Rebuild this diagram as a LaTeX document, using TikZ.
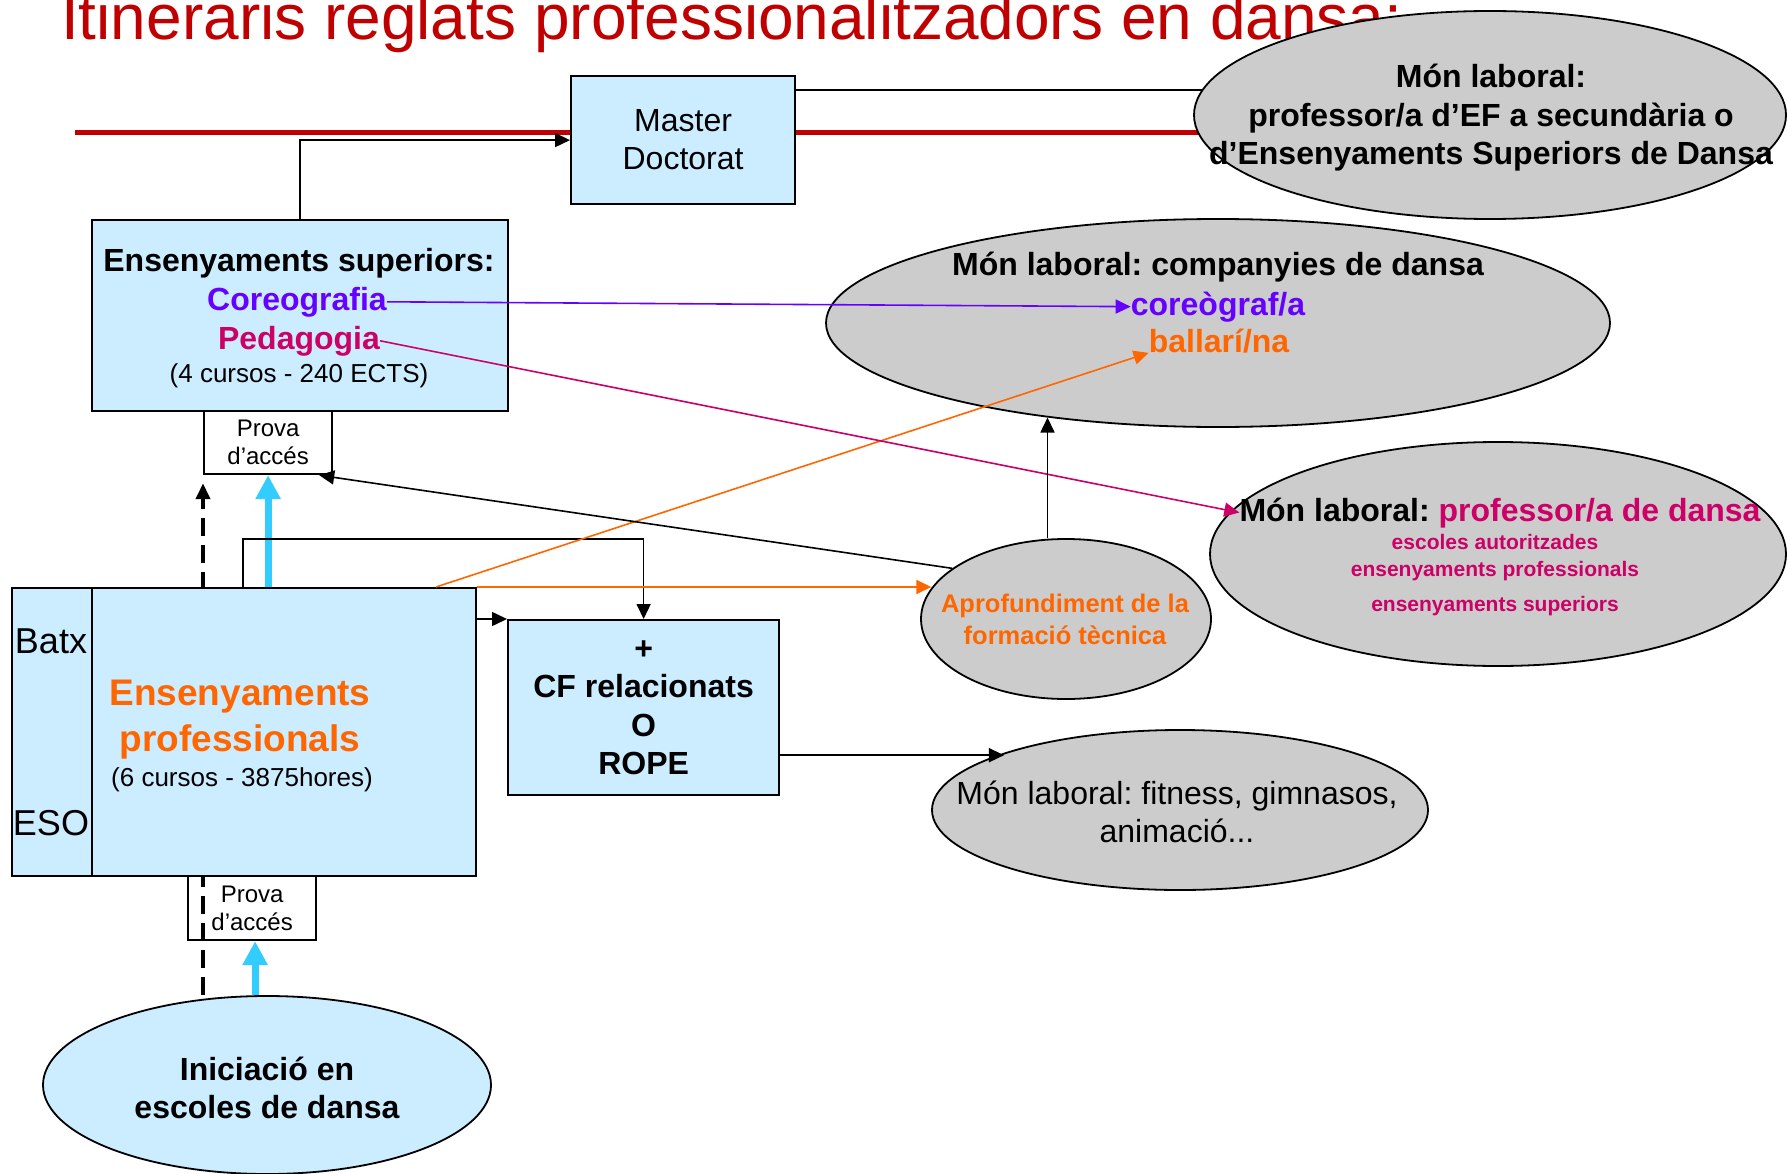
\documentclass[tikz,border=0pt]{standalone}
\usepackage{fontspec}
\setmainfont{Liberation Sans}
\frenchspacing
\usetikzlibrary{shapes.geometric,arrows.meta,backgrounds}
\definecolor{boxblue}{RGB}{204,236,255}
\definecolor{cloudgray}{RGB}{204,204,204}
\definecolor{titlered}{RGB}{192,0,0}
\definecolor{violeta}{RGB}{102,0,255}
\definecolor{rosa}{RGB}{204,0,102}
\definecolor{taronja}{RGB}{255,102,0}
\definecolor{cian}{RGB}{51,204,255}
\begin{document}
\begin{tikzpicture}[x=1pt, y=-1pt,
  caixa/.style={draw, line width=2.2pt, fill=boxblue, inner sep=0pt, anchor=north west},
  prova/.style={draw, line width=2.2pt, inner sep=0pt, anchor=north west, align=center, font=\fontsize{24}{28}\selectfont},
  nuvol/.style={ellipse, draw, line width=1.8pt, fill=cloudgray, inner sep=0pt},
  txt/.style={inner sep=0pt, align=center},
  gran/.style={font=\fontsize{32}{38}\selectfont},
  granb/.style={font=\fontsize{32}{38.5}\selectfont\bfseries},
  petit/.style={font=\fontsize{26}{30}\selectfont},
  fletxa/.style={-{Triangle[width=14pt,length=15pt]}, line width=1.6pt},
  cianfl/.style={-{Triangle[width=24pt,length=24pt]}, line width=7pt, cian},
  discont/.style={-{Triangle[width=14pt,length=16pt]}, line width=4pt, dash pattern=on 18pt off 9pt}]
\useasboundingbox (0,0) rectangle (1787,1174);
\node[txt, anchor=base west, font=\fontsize{64}{70}\selectfont, text=titlered] (titol) at (61,40) {Itineraris reglats professionalitzadors en dansa:};
\node[caixa, minimum width=224pt, minimum height=128pt, align=center, gran] (master) at (570,75) {Master\\Doctorat};
\node[nuvol, minimum width=592pt, minimum height=208pt] (topell) at (1490,115) {};
\node[txt, granb] (toptxt) at (1491,118) {Món laboral:\\professor/a d’EF a secundària o\\d’Ensenyaments Superiors de Dansa};
\node[caixa, minimum width=416pt, minimum height=191pt] (es) at (91,219) {};
\node[txt, granb, anchor=base] (esh) at (299,271) {Ensenyaments superiors:};
\node[txt, granb, anchor=base, text=violeta] (coreo) at (297,310) {Coreografia};
\node[txt, granb, anchor=base, text=rosa] (pedag) at (299,349) {Pedagogia};
\node[txt, petit, anchor=base] (escurs) at (299,382) {(4 cursos - 240 ECTS)};
\node[prova, minimum width=128pt, minimum height=63pt] (prova1) at (203,410) {Prova\\d’accés};
\node[nuvol, minimum width=784pt, minimum height=208pt] (comp) at (1218,323) {};
\node[txt, granb, anchor=base] (comph) at (1218,276) {Món laboral: companyies de dansa};
\node[txt, granb, anchor=base, text=violeta] (coreograf) at (1218,315) {coreògraf/a};
\node[txt, granb, anchor=base, text=taronja] (ballari) at (1219,352) {ballarí/na};
\node[nuvol, minimum width=576pt, minimum height=224pt] (profell) at (1498,554) {};
\node[txt, granb, anchor=base] (prof) at (1500,521) {Món laboral: \textcolor{rosa}{professor/a de dansa}};
\node[txt, font=\fontsize{21}{27}\selectfont\bfseries, text=rosa] (proftxt) at (1495,575.5) {escoles autoritzades\\ensenyaments professionals\\[8pt]ensenyaments superiors};
\node[nuvol, minimum width=290pt, minimum height=160pt] (aprof) at (1066,619) {};
\node[txt, font=\fontsize{25.5}{32}\selectfont\bfseries, text=taronja] (aproftxt) at (1065,619.5) {Aprofundiment de la\\formació tècnica};
\node[caixa, minimum width=80pt, minimum height=288pt] (batx) at (11,587) {};
\node[caixa, minimum width=384pt, minimum height=288pt] (ep) at (91,587) {};
\node[txt, anchor=base, font=\fontsize{36}{40}\selectfont] (batxtxt) at (51,653) {Batx};
\node[txt, anchor=base, font=\fontsize{36}{40}\selectfont] (esotxt) at (51,835) {ESO};
\node[txt, font=\fontsize{37}{46}\selectfont\bfseries, text=taronja] (eptxt) at (240,720) {Ensenyaments\\professionals};
\node[txt, petit, anchor=base] (epcurs) at (242,786) {(6 cursos - 3875hores)};
\node[caixa, minimum width=271pt, minimum height=175pt, align=center, granb] (cf) at (507,619) {+\\CF relacionats\\O\\ROPE};
\node[prova, minimum width=128pt, minimum height=64pt] (prova2) at (187,875) {Prova\\d’accés};
\node[nuvol, minimum width=496pt, minimum height=160pt] (fit) at (1180,810) {};
\node[txt, gran] (fittxt) at (1177,811.5) {Món laboral: fitness, gimnasos,\\animació...};
\node[nuvol, fill=boxblue, minimum width=448pt, minimum height=178pt] (inic) at (267,1085) {};
\node[txt, granb] (inictxt) at (267,1088) {Iniciació en\\escoles de dansa};
\coordinate (redini) at (75,133);
\coordinate (mstout) at ([yshift=-15pt]master.north east);
\coordinate (cfout) at ([yshift=41pt]cf.south east);
\begin{pgfonlayer}{background}
\draw[line width=5pt, titlered] (redini) -- (redini -| topell.center);
\draw[line width=1.6pt] (mstout) -- (mstout -| topell.center);
\draw[discont] (inic.north -| prova1.south west) -- ([yshift=-8pt]prova1.south west);
\end{pgfonlayer}
\draw[fletxa] (es.north) |- (master.west);
\draw[cianfl] (ep.north -| prova1.south) -- (prova1.south);
\draw[cianfl] ([xshift=3pt]prova2.south |- inic.north) -- ([xshift=3pt]prova2.south);
\draw[fletxa] ([xshift=152pt]ep.north west) |- ([yshift=80pt]cf.north) -- (cf.north);
\draw[fletxa] (ep.east |- cf.north west) -- (cf.north west);
\draw[fletxa] (cfout) -- (cfout -| fit.162);
\draw[fletxa, taronja] (ep.north east) -- (ep.north east -| aprof.167);
\draw[fletxa, taronja] ([xshift=345pt]ep.north west) -- (ballari.south west);
\draw[fletxa, violeta] (coreo.east) -- (coreograf.west);
\draw[fletxa, rosa] (pedag.east) -- (prof.west);
\draw[fletxa] (aprof.156) -- ([xshift=-14pt]prova1.south east);
\draw[fletxa] (aprof.north -| comp.209) -- (comp.209);
\end{tikzpicture}
\end{document}
